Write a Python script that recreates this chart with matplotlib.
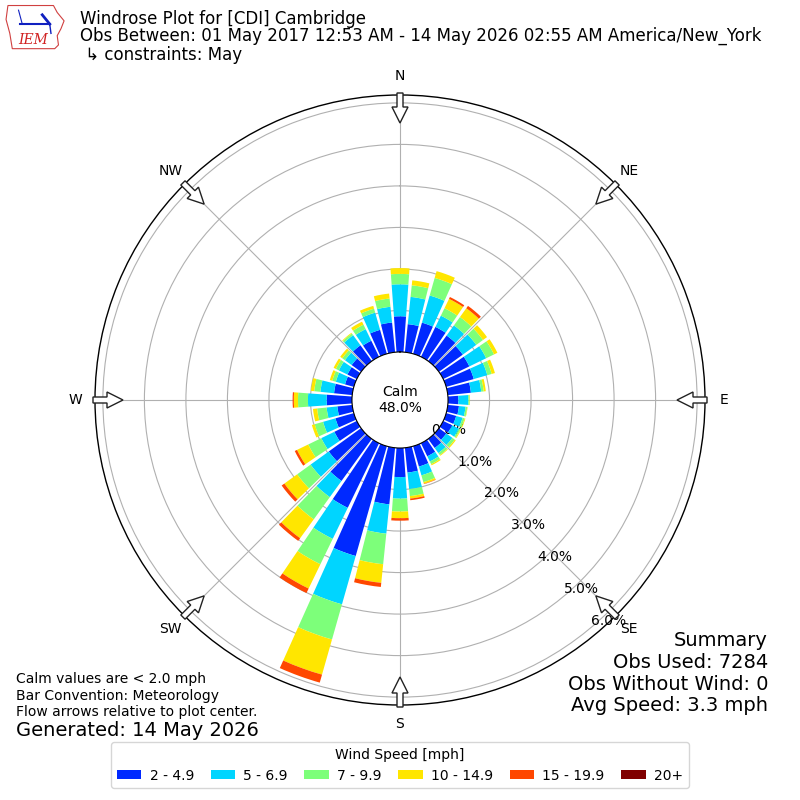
import numpy as np
import matplotlib
matplotlib.use("Agg")
import matplotlib.pyplot as plt
from matplotlib.patches import Polygon, Patch

# ---------------- data (percent of observations) ----------------
directions = list(range(0, 360, 10))
speed_labels = ["2 - 4.9", "5 - 6.9", "7 - 9.9", "10 - 14.9", "15 - 19.9", "20+"]
bin_2_5 = [0.86, 0.68, 0.78, 0.80, 0.76, 0.71, 0.70, 0.69, 0.56, 0.25, 0.27, 0.25,
           0.24, 0.22, 0.27, 0.35, 0.51, 0.60, 0.70, 1.37, 2.75, 1.73, 1.25, 0.96,
           0.60, 0.46, 0.36, 0.61, 0.44, 0.22, 0.25, 0.28, 0.47, 0.43, 0.60, 0.72]
bin_5_7 = [0.77, 0.66, 0.68, 0.30, 0.30, 0.40, 0.45, 0.34, 0.25, 0.24, 0.16, 0.16,
           0.18, 0.18, 0.15, 0.14, 0.22, 0.40, 0.52, 0.71, 1.21, 0.83, 0.48, 0.54,
           0.35, 0.31, 0.26, 0.45, 0.33, 0.23, 0.23, 0.20, 0.30, 0.31, 0.43, 0.38]
bin_7_10 = [0.25, 0.28, 0.44, 0.20, 0.25, 0.20, 0.21, 0.11, 0.06, 0.03, 0.04, 0.05,
            0.04, 0.07, 0.06, 0.07, 0.17, 0.17, 0.31, 0.74, 0.88, 0.68, 0.66, 0.40,
            0.35, 0.21, 0.23, 0.24, 0.15, 0.09, 0.08, 0.08, 0.05, 0.12, 0.10, 0.20]
bin_10_15 = [0.14, 0.12, 0.17, 0.25, 0.26, 0.12, 0.09, 0.08, 0.05, 0.01, 0.01, 0.02,
             0.02, 0.03, 0.02, 0.03, 0.04, 0.06, 0.16, 0.45, 0.88, 0.65, 0.56, 0.38,
             0.30, 0.07, 0.10, 0.10, 0.08, 0.06, 0.06, 0.06, 0.02, 0.08, 0.07, 0.12]
bin_15_20 = [0.00, 0.00, 0.00, 0.05, 0.07, 0.00, 0.00, 0.00, 0.00, 0.00, 0.00, 0.00,
             0.00, 0.00, 0.00, 0.00, 0.01, 0.04, 0.06, 0.10, 0.20, 0.12, 0.08, 0.08,
             0.06, 0.00, 0.00, 0.03, 0.00, 0.00, 0.00, 0.00, 0.00, 0.00, 0.00, 0.00]
bin_20p = [0.0] * 36
calm_pct = 48.0
rings = [0, 1, 2, 3, 4, 5, 6]
compass = ["N", "NE", "E", "SE", "S", "SW", "W", "NW"]

series = [bin_2_5, bin_5_7, bin_7_10, bin_10_15, bin_15_20, bin_20p]
cmap = plt.get_cmap("jet")
colors = [cmap(v) for v in np.linspace(0, 1, 7)[1:]]

# ---------------- figure ----------------
fig = plt.figure(figsize=(8, 8), dpi=100)
R = 0.38125
ax = fig.add_axes([0.5 - R, 0.5 - R, 2 * R, 2 * R], projection="polar")
ax.set_theta_zero_location("N")
ax.set_theta_direction(-1)
ax.set_rorigin(-1.157)
ax.set_ylim(0, 6.19)
ax.set_axisbelow(True)

theta = np.radians(directions)
width = np.radians(8.3)
bottom = np.zeros(len(directions))
for vals, col in zip(series, colors):
    vals = np.array(vals)
    ax.bar(theta, vals, width=width, bottom=bottom, color=col,
           edgecolor="none", zorder=2)
    bottom = bottom + vals

ax.set_thetagrids(range(0, 360, 45), labels=[""] * 8)
ax.set_rgrids(rings, labels=[f"{v:.1f}%" for v in rings], angle=140, fontsize=10)
ax.grid(True, color="#b0b0b0", lw=0.8)
ax.spines["polar"].set_linewidth(1.0)

ax.text(0.5, 0.5, f"Calm\n{calm_pct:.1f}%", transform=ax.transAxes,
        ha="center", va="center", fontsize=10)

for i, lab in enumerate(compass):
    ax.text(np.radians(i * 45), 6.65, lab, ha="center", va="center",
            fontsize=10, clip_on=False)

# flow arrows at the rim pointing to center
W, H = 800.0, 800.0
for i in range(8):
    t = np.radians(i * 45)
    s, c = np.sin(t), np.cos(t)
    pts_rw = [(307, -3), (307, 3), (293, 3), (293, 8), (277, 0), (293, -8), (293, -3)]
    pts = [((400 + r * s + w * c) / W, (400 + r * c - w * s) / H) for r, w in pts_rw]
    fig.add_artist(Polygon(pts, closed=True, facecolor="white", edgecolor="#222222",
                           lw=1.0, transform=fig.transFigure, zorder=5))

# ---------------- texts ----------------
fig.text(0.1, 0.976, "Windrose Plot for [CDI] Cambridge", fontsize=12, va="center")
fig.text(0.1, 0.955, "Obs Between: 01 May 2017 12:53 AM - 14 May 2026 02:55 AM America/New_York",
         fontsize=12, va="center")
fig.text(0.1, 0.931, " \u21b3 constraints: May", fontsize=12, va="center")

for y, s in zip([0.2, 0.172, 0.145, 0.118],
                ["Summary", "Obs Used: 7284", "Obs Without Wind: 0", "Avg Speed: 3.3 mph"]):
    fig.text(0.96, y, s, fontsize=14, ha="right", va="center")

for y, s in zip([0.151, 0.130, 0.110],
                ["Calm values are < 2.0 mph", "Bar Convention: Meteorology",
                 "Flow arrows relative to plot center."]):
    fig.text(0.02, y, s, fontsize=10, ha="left", va="center")
fig.text(0.02, 0.0875, "Generated: 14 May 2026", fontsize=14, ha="left", va="center")

handles = [Patch(facecolor=c, edgecolor="none") for c in colors]
fig.legend(handles, speed_labels, loc="lower center", bbox_to_anchor=(0.5, 0.006),
           ncol=6, title="Wind Speed [mph]", fontsize=10, title_fontsize=10,
           handlelength=1.75, handleheight=0.6, handletextpad=0.6, columnspacing=1.2)

# ---------------- simple logo ----------------
lax = fig.add_axes([0.006, 0.938, 0.078, 0.058])
lax.set_xlim(0, 1)
lax.set_ylim(0, 1)
lax.axis("off")
iowa = [(0.05, 0.95), (0.78, 0.95), (0.84, 0.80), (0.95, 0.62), (0.90, 0.45),
        (0.84, 0.30), (0.86, 0.10), (0.80, 0.02), (0.12, 0.02), (0.08, 0.35),
        (0.02, 0.65)]
lax.add_patch(Polygon(iowa, closed=True, facecolor="white", edgecolor="#d04040", lw=0.8))
lax.plot([0.25, 0.72], [0.55, 0.55], color="#1020c0", lw=1.5)
lax.plot([0.28, 0.22], [0.55, 0.85], color="#1020c0", lw=0.8)
lax.plot([0.60, 0.72], [0.75, 0.55], color="#1020c0", lw=2)
lax.plot([0.72, 0.74], [0.55, 0.35], color="#1020c0", lw=1)
lax.text(0.45, 0.2, "IEM", color="#d02020", fontsize=10, family="DejaVu Serif",
         style="italic", ha="center", va="center")

fig.savefig("out.png", dpi=100)
